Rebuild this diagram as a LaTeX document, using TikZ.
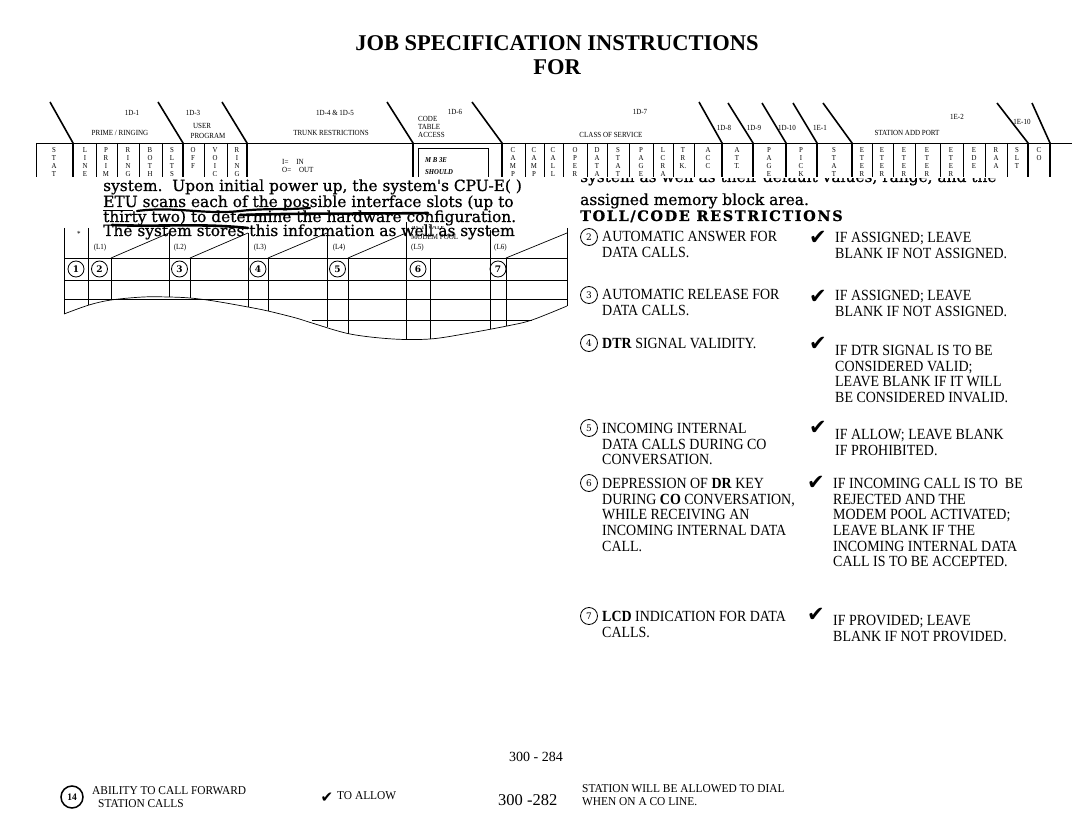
\documentclass[tikz,border=0pt]{standalone}
\usepackage{fontspec}
\setmainfont{Liberation Serif}
\newfontfamily\bodyfont[FakeStretch=0.9]{Liberation Serif}
\newfontfamily\footfont[FakeStretch=0.95]{Liberation Serif}
\newfontfamily\parfont[FakeBold=0.7]{DejaVu Serif}
\newfontfamily\numfont{DejaVu Serif}
\newfontfamily\symfont{DejaVu Sans}
\usepackage{tikz}
\tikzset{
  hline/.style={line width=0.7pt},
  slashline/.style={line width=1.6pt},
  vlet/.style={anchor=north, inner sep=0pt, align=center, font=\bodyfont\fontsize{7.6}{8}\selectfont},
  hdr/.style={inner sep=0pt, font=\bodyfont\fontsize{7.8}{8.2}\selectfont},
  para/.style={anchor=base west, inner sep=0pt, font=\parfont\fontsize{15.4}{15.4}\selectfont},
  item/.style={anchor=north west, inner sep=0pt, align=left, font=\bodyfont\fontsize{15.5}{15.7}\selectfont},
  numc/.style={circle, draw, line width=0.8pt, inner sep=0pt, minimum size=17pt, font=\numfont\fontsize{9}{9}\selectfont},
  chk/.style={inner sep=0pt, font=\symfont\fontsize{21}{21}\selectfont},
  foot/.style={anchor=west, inner sep=0pt, font=\footfont\fontsize{12}{12}\selectfont},
}

\begin{document}
\begin{tikzpicture}[x=1pt,y=1pt,yscale=-1,xscale=1]
\useasboundingbox (0,0) rectangle (1080,832);

% Title
\draw (557,43) node [inner sep=0pt, font=\bfseries\fontsize{22.5}{22.5}\selectfont] (title) {JOB SPECIFICATION INSTRUCTIONS};
\draw (557,67) node [inner sep=0pt, font=\bfseries\fontsize{22.5}{22.5}\selectfont] (for) {FOR};

%Header band: base line
\draw [hline] (36,143) -- (1072,143) ;
%Header band: slashes
\draw [slashline] (50,102) -- (73,143) -- (73,177) ;
\draw [slashline] (158,102) -- (183,143) -- (183,177) ;
\draw [slashline] (222,102) -- (247,143) -- (247,177) ;
\draw [slashline] (387,102) -- (413,143) -- (413,177) ;
\draw [slashline] (472,102) -- (502,143) -- (502,177) ;
\draw [slashline] (699,102) -- (722,143) -- (722,177) ;
\draw [slashline] (728,103) -- (753,143) -- (753,177) ;
\draw [slashline] (762,103) -- (786,143) -- (786,177) ;
\draw [slashline] (793,103) -- (817,143) -- (817,177) ;
\draw [slashline] (823,103) -- (852,143) -- (852,177) ;
\draw [slashline] (997,103) -- (1028,143) -- (1028,177) ;
\draw [slashline] (1032,103) -- (1050,143) -- (1050,177) ;
%Header band: thin column rules
\draw [hline] (36,143) -- (36,177) (96,143) -- (96,177) (117,143) -- (117,177) (139,143) -- (139,177) (162,143) -- (162,177) (204,143) -- (204,177) (227,143) -- (227,177) ;
\draw [hline] (525,143) -- (525,177) (544,143) -- (544,177) (563,143) -- (563,177) (587,143) -- (587,177) (607,143) -- (607,177) (629,143) -- (629,177) (653,143) -- (653,177) (673,143) -- (673,177) (694,143) -- (694,177) ;
\draw [hline] (872,143) -- (872,177) (893,143) -- (893,177) (915,143) -- (915,177) (940,143) -- (940,177) (963,143) -- (963,177) (985,143) -- (985,177) (1007,143) -- (1007,177) ;
%Shape: Rectangle (code table box)
\draw [hline] (418,177) -- (418,148) -- (488,148) -- (488,177) ;

% Header labels
\draw (132,113) node [hdr] (l1d1) {1D-1};
\draw (120,133) node [hdr] (lprime) {PRIME / RINGING};
\draw (193,113) node [hdr] (l1d3) {1D-3};
\draw (202,126) node [hdr] (luser) {USER};
\draw (208,136) node [hdr] (lprog) {PROGRAM};
\draw (335,113) node [hdr] (l1d4) {1D-4 \& 1D-5};
\draw (331,133) node [hdr] (ltrunk) {TRUNK RESTRICTIONS};
\draw (455,112) node [hdr] (l1d6) {1D-6};
\draw (418,116) node [hdr, anchor=north west, align=left] (lcode) {CODE\\TABLE\\ACCESS};
\draw (640,112) node [hdr] (l1d7) {1D-7};
\draw (611,135) node [hdr] (lclass) {CLASS OF SERVICE};
\draw (724,128) node [hdr] (l1d8) {1D-8};
\draw (754,128) node [hdr] (l1d9) {1D-9};
\draw (787,128) node [hdr] (l1d10) {1D-10};
\draw (820,128) node [hdr] (l1e1) {1E-1};
\draw (907,133) node [hdr] (lstation) {STATION ADD PORT};
\draw (957,117) node [hdr] (l1e2) {1E-2};
\draw (1022,122) node [hdr] (l1e10) {1E-10};
\draw (282,162) node [hdr, anchor=west] (lin) {I=\quad IN};
\draw (282,170) node [hdr, anchor=west] (lout) {O=\quad OUT};
\draw (425,160) node [hdr, anchor=west, font=\bodyfont\bfseries\itshape\fontsize{7.5}{8}\selectfont] (lmb) {M B 3E};
\draw (425,172) node [hdr, anchor=west, font=\bodyfont\bfseries\itshape\fontsize{7.5}{8}\selectfont] (lshould) {SHOULD};

% Header column letters, cut off by the pasted text below
\begin{scope}
\clip (30,143) rectangle (1080,176);
\draw (54,147.5) node [vlet] (cstat) {S\\T\\A\\T};
\draw (85,147.5) node [vlet] (cline) {L\\I\\N\\E};
\draw (106,147.5) node [vlet] (cprim) {P\\R\\I\\M};
\draw (128,147.5) node [vlet] (cring) {R\\I\\N\\G};
\draw (150,147.5) node [vlet] (cboth) {B\\O\\T\\H};
\draw (172,147.5) node [vlet] (cslt) {S\\L\\T\\S};
\draw (193,147.5) node [vlet] (coff) {O\\F\\F};
\draw (215,147.5) node [vlet] (cvoi) {V\\O\\I\\C};
\draw (237,147.5) node [vlet] (crin) {R\\I\\N\\G};
\draw (513,147.5) node [vlet] (ccama) {C\\A\\M\\P};
\draw (534,147.5) node [vlet] (ccamb) {C\\A\\M\\P};
\draw (553,147.5) node [vlet] (ccal) {C\\A\\L\\L};
\draw (575,147.5) node [vlet] (cope) {O\\P\\E\\R};
\draw (597,147.5) node [vlet] (cdat) {D\\A\\T\\A};
\draw (618,147.5) node [vlet] (cstaa) {S\\T\\A\\T};
\draw (641,147.5) node [vlet] (cpaga) {P\\A\\G\\E};
\draw (663,147.5) node [vlet] (clcr) {L\\C\\R\\A};
\draw (683,147.5) node [vlet] (ctrk) {T\\R\\K.};
\draw (708,147.5) node [vlet] (cacc) {A\\C\\C};
\draw (737,147.5) node [vlet] (catt) {A\\T\\T.};
\draw (769,147.5) node [vlet] (cpagb) {P\\A\\G\\E};
\draw (801,147.5) node [vlet] (cpic) {P\\I\\C\\K};
\draw (834,147.5) node [vlet] (cstab) {S\\T\\A\\T};
\draw (862,147.5) node [vlet] (cetea) {E\\T\\E\\R};
\draw (882,147.5) node [vlet] (ceteb) {E\\T\\E\\R};
\draw (904,147.5) node [vlet] (cetec) {E\\T\\E\\R};
\draw (927,147.5) node [vlet] (ceted) {E\\T\\E\\R};
\draw (951,147.5) node [vlet] (cetee) {E\\T\\E\\R};
\draw (974,147.5) node [vlet] (cede) {E\\D\\E};
\draw (996,147.5) node [vlet] (craa) {R\\A\\A};
\draw (1017,147.5) node [vlet] (csltb) {S\\L\\T};
\draw (1039,147.5) node [vlet] (cco) {C\\O};
\end{scope}

% Pasted text, left block
\draw (103,191) node [para] (pa) {system.\ \ Upon initial power up, the system's CPU-E(\ )};
\draw (103,207) node [para] (pb) {ETU scans each of the possible interface slots (up to};
\draw (103,222) node [para] (pc) {thirty two) to determine the hardware configuration.};
\draw (103,236) node [para] (pd) {The system stores this information as well as system};
%Straight Lines (marks on the scan)
\draw [line width=0.7pt] (103,210) -- (133,210) ;
\draw [line width=2.2pt, line cap=round] (137,211) .. controls (175,206) and (205,215) .. (240,211) .. controls (265,208) and (285,210) .. (310,208) ;
\draw [line width=2.6pt, line cap=round] (240,215) .. controls (300,213) and (360,214) .. (428,213) ;
\draw [line width=2.6pt, line cap=round] (112,225) .. controls (160,227) and (200,223) .. (248,228) ;

% Pasted text, right block
\begin{scope}
\clip (570,179) rectangle (1080,200);
\draw (580,182) node [para] (pe) {system as well as their default values, range, and the};
\end{scope}
\draw (580,205) node [para] (pf) {assigned memory block area.};
\draw (580,221) node [para, font=\parfont\bfseries\fontsize{14.5}{14.5}\selectfont] (toll) {\addfontfeature{LetterSpace=11}TOLL/CODE RESTRICTIONS};

%Grid: vertical rules
\draw [hline] (64,228) -- (64,314) ;
\draw [hline] (88,228) -- (88,305) ;
\draw [hline] (111,258) -- (111,299) ;
\draw [hline] (169,233) -- (169,297) ;
\draw [hline] (190,258) -- (190,298) ;
\draw [hline] (248,233) -- (248,307) ;
\draw [hline] (268,258) -- (268,311) ;
\draw [hline] (327,233) -- (327,327) ;
\draw [hline] (348,258) -- (348,334) ;
\draw [hline] (406,222) -- (406,339) ;
\draw [hline] (430,258) -- (430,339) ;
\draw [hline] (490,230) -- (490,329) ;
\draw [hline] (506,258) -- (506,326) ;
\draw [hline] (567,228) -- (567,306) ;
%Grid: slants
\draw [hline] (111,258) -- (169,233) ;
\draw [hline] (190,258) -- (248,233) ;
\draw [hline] (268,258) -- (327,233) ;
\draw [hline] (348,258) -- (406,233) ;
\draw [hline] (506,258) -- (567,233) ;
%Grid: horizontal rules
\draw [hline] (64,258) -- (567,258) ;
\draw [hline] (64,280) -- (567,280) ;
\draw [hline] (64,299) -- (567,299) ;
\draw [hline] (312,320) -- (532,320) ;
%Grid: torn lower edge
\draw [hline] plot [smooth, tension=0.55] coordinates {(64,314) (89,305) (111,300) (143,297) (169,297) (190,298) (214,301) (248,307) (268,311) (296,318) (312,323) (350,334) (393,339) (430,339) (464,334) (507,326) (532,320) (567,306)} ;

% Grid labels
\draw (79,234) node [hdr] (star) {*};
\draw (100,248) node [hdr] (gl1) {(L1)};
\draw (180,248) node [hdr] (gl2) {(L2)};
\draw (260,248) node [hdr] (gl3) {(L3)};
\draw (339,248) node [hdr] (gl4) {(L4)};
\begin{scope}
\clip (405,227) rectangle (490,235);
\draw (411,227) node [hdr, anchor=west] (gact) {ACTIVATE};
\end{scope}
\draw (411,237) node [hdr, anchor=west] (gmodem) {MODEM POOL};
\draw (411,248) node [hdr, anchor=west] (gl5) {(L5)};
\draw (494,248) node [hdr, anchor=west] (gl6) {(L6)};
\draw (76,269) node [numc, minimum size=16pt, font=\numfont\bfseries\fontsize{9}{9}\selectfont] (g1) {1};
\draw (99.5,269) node [numc, minimum size=16pt, font=\numfont\bfseries\fontsize{9}{9}\selectfont] (g2) {2};
\draw (179.5,269) node [numc, minimum size=16pt, font=\numfont\bfseries\fontsize{9}{9}\selectfont] (g3) {3};
\draw (258,269) node [numc, minimum size=16pt, font=\numfont\bfseries\fontsize{9}{9}\selectfont] (g4) {4};
\draw (337.5,269) node [numc, minimum size=16pt, font=\numfont\bfseries\fontsize{9}{9}\selectfont] (g5) {5};
\draw (418,269) node [numc, minimum size=16pt, font=\numfont\bfseries\fontsize{9}{9}\selectfont] (g6) {6};
\draw (498,269) node [numc, minimum size=16pt, font=\numfont\bfseries\fontsize{9}{9}\selectfont] (g7) {7};

% Item 2
\draw (589,237) node [numc] (n2) {2};
\draw (602,231) node [item] (q2) {AUTOMATIC ANSWER FOR\\DATA CALLS.};
\draw (818,238) node [chk] (k2) {✔};
\draw (835,232) node [item] (a2) {IF ASSIGNED; LEAVE\\BLANK IF NOT ASSIGNED.};
% Item 3
\draw (589,295) node [numc] (n3) {3};
\draw (602,289) node [item] (q3) {AUTOMATIC RELEASE FOR\\DATA CALLS.};
\draw (818,297) node [chk] (k3) {✔};
\draw (835,290) node [item] (a3) {IF ASSIGNED; LEAVE\\BLANK IF NOT ASSIGNED.};
% Item 4
\draw (589,343) node [numc] (n4) {4};
\draw (602,338) node [item] (q4) {\textbf{DTR} SIGNAL VALIDITY.};
\draw (818,344) node [chk] (k4) {✔};
\draw (835,345) node [item] (a4) {IF DTR SIGNAL IS TO BE\\CONSIDERED VALID;\\LEAVE BLANK IF IT WILL\\BE CONSIDERED INVALID.};
% Item 5
\draw (589,428) node [numc] (n5) {5};
\draw (602,423) node [item] (q5) {INCOMING INTERNAL\\DATA CALLS DURING CO\\CONVERSATION.};
\draw (818,428) node [chk] (k5) {✔};
\draw (835,429) node [item] (a5) {IF ALLOW; LEAVE BLANK\\IF PROHIBITED.};
% Item 6
\draw (589,483) node [numc] (n6) {6};
\draw (602,478) node [item] (q6) {DEPRESSION OF \textbf{DR} KEY\\DURING \textbf{CO} CONVERSATION,\\WHILE RECEIVING AN\\INCOMING INTERNAL DATA\\CALL.};
\draw (816,483) node [chk] (k6) {✔};
\draw (833,478) node [item] (a6) {IF INCOMING CALL IS TO\ \ BE\\REJECTED AND THE\\MODEM POOL ACTIVATED;\\LEAVE BLANK IF THE\\INCOMING INTERNAL DATA\\CALL IS TO BE ACCEPTED.};
% Item 7
\draw (589,616) node [numc] (n7) {7};
\draw (602,611) node [item] (q7) {\textbf{LCD} INDICATION FOR DATA\\CALLS.};
\draw (816,615) node [chk] (k7) {✔};
\draw (833,615) node [item] (a7) {IF PROVIDED; LEAVE\\BLANK IF NOT PROVIDED.};

% Footer
\draw (536,757) node [inner sep=0pt, font=\fontsize{14}{14}\selectfont] (pg1) {300 - 284};
\draw (72,797) node [numc, line width=1.5pt, minimum size=22pt, font=\footfont\bfseries\fontsize{10}{10}\selectfont] (n14) {14};
\draw (92,791) node [foot] (f14a) {ABILITY TO CALL FORWARD};
\draw (98,804) node [foot] (f14b) {STATION CALLS};
\draw (327,798) node [chk, font=\symfont\fontsize{15}{15}\selectfont] (k14) {✔};
\draw (337,796) node [foot] (fallow) {TO ALLOW};
\draw (498,800) node [foot, font=\fontsize{16.5}{17}\selectfont] (pg2) {300 -282};
\draw (582,789) node [foot] (fdial) {STATION WILL BE ALLOWED TO DIAL};
\draw (582,802) node [foot] (fline) {WHEN ON A CO LINE.};
\end{tikzpicture}
\end{document}
